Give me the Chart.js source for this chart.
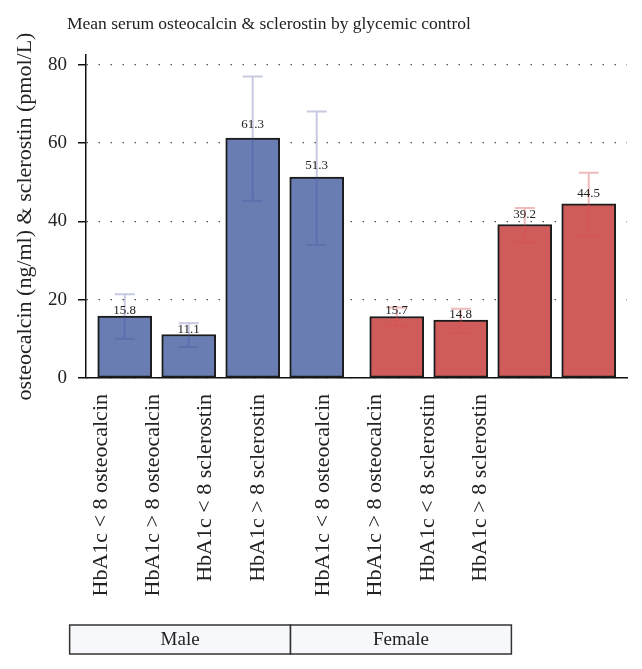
<!DOCTYPE html>
<html>
<head>
<meta charset="utf-8">
<script src="https://cdn.jsdelivr.net/npm/chart.js@4.4.1/dist/chart.umd.min.js"></script>
<style>
  html, body { margin: 0; padding: 0; background: #ffffff; }
  #wrap { width: 642px; height: 669px; position: relative; }
</style>
</head>
<body>
<div id="wrap"><canvas id="c" width="642" height="669"></canvas></div>
<script>
// ---------- data ----------
const titleText = 'Mean serum osteocalcin & sclerostin by glycemic control';
const yAxisTitle = 'osteocalcin (ng/ml) & sclerostin (pmol/L)';
const groups = ['Male', 'Female'];
const categories = ['HbA1c < 8 osteocalcin', 'HbA1c > 8 osteocalcin', 'HbA1c < 8 sclerostin', 'HbA1c > 8 sclerostin'];
const maleMeans = [15.8, 11.1, 61.3, 51.3];
const femaleMeans = [15.7, 14.8, 39.2, 44.5];
const maleLower = [10.0, 7.9, 45.3, 34.0];
const maleUpper = [21.4, 14.0, 77.0, 68.1];
const femaleLower = [13.3, 11.4, 34.7, 36.3];
const femaleUpper = [18.0, 17.7, 43.4, 52.4];
const yTickValues = [0, 20, 40, 60, 80];

// ---------- layout helpers ----------
const FONT = "'Liberation Serif', 'Times New Roman', serif";
const groupGap = 0.25;
const slots = [];      // positions on the index axis
const slotLabels = [];
groups.forEach((g, gi) => {
  categories.forEach((c, ci) => {
    slots.push(gi * (categories.length + groupGap) + ci);
    slotLabels.push(c);
  });
});
const malePos = slots.slice(0, categories.length);
const femalePos = slots.slice(categories.length);

const series = [
  { means: maleMeans, lower: maleLower, upper: maleUpper, pos: malePos,
    fill: '#6a7db3', err: 'rgba(70,80,160,0.30)' },
  { means: femaleMeans, lower: femaleLower, upper: femaleUpper, pos: femalePos,
    fill: '#d05b5b', err: 'rgba(215,75,75,0.38)' }
];

const errorBars = {
  id: 'errorBars',
  afterDatasetsDraw(chart) {
    const ctx = chart.ctx, y = chart.scales.y;
    ctx.save();
    series.forEach((s, d) => {
      const meta = chart.getDatasetMeta(d);
      meta.data.forEach((el, i) => {
        const yl = y.getPixelForValue(s.lower[i]);
        const yu = y.getPixelForValue(s.upper[i]);
        ctx.strokeStyle = s.err;
        ctx.lineWidth = 2;
        ctx.beginPath();
        ctx.moveTo(el.x, yl); ctx.lineTo(el.x, yu);
        ctx.moveTo(el.x - 10, yl); ctx.lineTo(el.x + 10, yl);
        ctx.moveTo(el.x - 10, yu); ctx.lineTo(el.x + 10, yu);
        ctx.stroke();
      });
    });
    // value labels
    ctx.fillStyle = '#222';
    ctx.font = '13px ' + FONT;
    ctx.textAlign = 'center';
    ctx.textBaseline = 'middle';
    series.forEach((s, d) => {
      const meta = chart.getDatasetMeta(d);
      meta.data.forEach((el, i) => {
        const v = s.means[i];
        ctx.fillText(v.toFixed(1), el.x, y.getPixelForValue(v * 1.042 + 0.8));
      });
    });
    ctx.restore();
  }
};

const extras = {
  id: 'extras',
  afterDraw(chart) {
    const ctx = chart.ctx;
    ctx.save();
    // title
    ctx.fillStyle = '#222';
    ctx.font = '17.5px ' + FONT;
    ctx.textAlign = 'left';
    ctx.textBaseline = 'alphabetic';
    ctx.fillText(titleText, 67, 29);
    // group boxes
    const x2 = chart.scales.x2;
    const top = x2.bottom, h = 29;
    const n = categories.length;
    groups.forEach((g, gi) => {
      const first = slots[gi * n], last = slots[gi * n + n - 1];
      const prevLast = gi > 0 ? slots[gi * n - 1] : null;
      const nextFirst = gi < groups.length - 1 ? slots[(gi + 1) * n] : null;
      const lv = prevLast === null ? first - 0.6 : (prevLast + first) / 2;
      const rv = nextFirst === null ? last + 0.6 : (last + nextFirst) / 2;
      const l = x2.getPixelForValue(lv), r = x2.getPixelForValue(rv);
      ctx.fillStyle = '#f7f8fc';
      ctx.fillRect(l, top, r - l, h);
      ctx.strokeStyle = '#333';
      ctx.lineWidth = 1.5;
      ctx.strokeRect(l, top, r - l, h);
      ctx.fillStyle = '#222';
      ctx.font = '19px ' + FONT;
      ctx.textAlign = 'center';
      ctx.textBaseline = 'middle';
      ctx.fillText(g, (l + r) / 2, top + h / 2 + 1);
    });
    ctx.restore();
  }
};

new Chart(document.getElementById('c'), {
  type: 'bar',
  data: {
    datasets: series.map((s, d) => ({
      label: groups[d],
      data: s.means.map((v, i) => ({ x: s.pos[i], y: v })),
      backgroundColor: s.fill,
      borderColor: '#1c1c1c',
      borderWidth: 2,
      borderSkipped: false,
      barThickness: 54,
      grouped: false
    }))
  },
  options: {
    responsive: false,
    animation: false,
    layout: { padding: { top: 55, right: 15, bottom: 44, left: 0 } },
    plugins: { legend: { display: false }, tooltip: { enabled: false }, title: { display: false } },
    scales: {
      x: {
        type: 'linear', position: 'bottom', min: -0.605, max: 7.848, offset: false,
        grid: { display: false, offset: false },
        ticks: { display: false },
        border: { display: true, color: '#111', width: 1.5 },
        afterFit(scale) { scale.height = 0; }
      },
      x2: {
        type: 'linear', position: 'bottom', min: -0.287, max: 10.061, offset: false,
        grid: { display: false },
        border: { display: false },
        afterBuildTicks(scale) { scale.ticks = slots.map(v => ({ value: v })); },
        ticks: {
          autoSkip: false, minRotation: 90, maxRotation: 90, padding: 8,
          color: '#222', font: { family: FONT, size: 22 },
          callback: (v, i) => slotLabels[i]
        },
        afterFit(scale) { scale.height = 247; }
      },
      y: {
        type: 'linear', min: 0, max: 82.5,
        afterBuildTicks(scale) { scale.ticks = yTickValues.map(v => ({ value: v })); },
        ticks: { color: '#222', padding: 11, font: { family: FONT, size: 19 } },
        grid: {
          color: '#555', lineWidth: 1.3,
          drawTicks: true, tickLength: 8, tickColor: '#111', tickWidth: 1.5, tickBorderDash: [1, 0]
        },
        border: { display: true, color: '#111', width: 1.5, dash: [1.5, 10.5] },
        title: { display: true, text: yAxisTitle, color: '#222', font: { family: FONT, size: 22 }, padding: { top: 12, bottom: 0 } },
        afterFit(scale) { scale.width = 86; }
      }
    }
  },
  plugins: [errorBars, extras]
});
</script>
</body>
</html>
